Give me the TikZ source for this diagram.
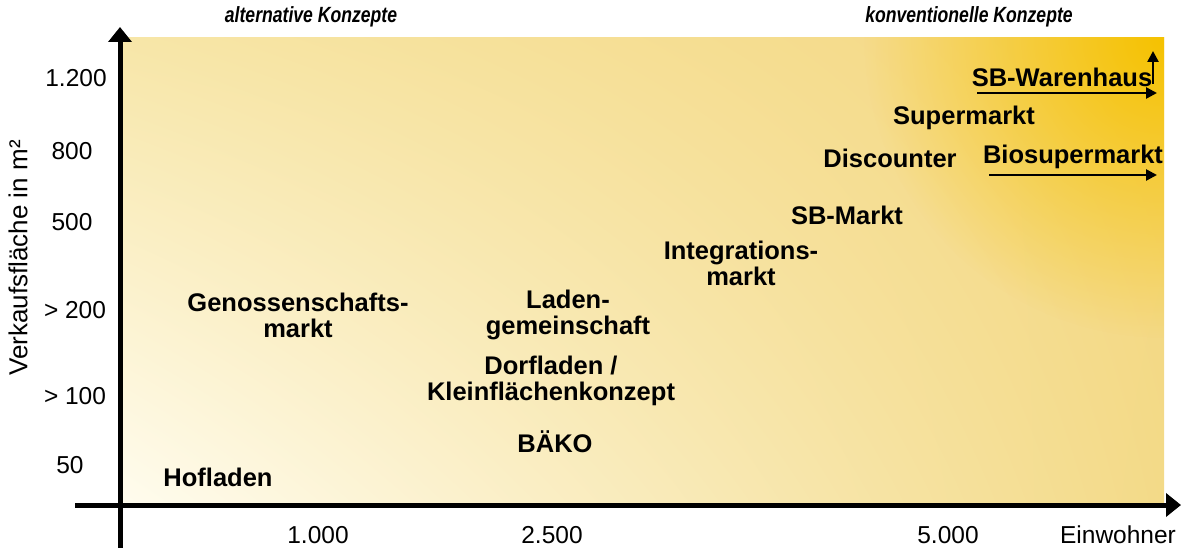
\documentclass[tikz,border=0pt]{standalone}
\usepackage{fontspec}
\setmainfont{Liberation Sans}
\usetikzlibrary{arrows.meta}
\usetikzlibrary{positioning}
\usetikzlibrary{shadings,fadings}

\definecolor{hellgelb}{HTML}{FFFCEE}
\definecolor{blassgelb}{HTML}{F7E6A8}
\definecolor{goldgelb}{HTML}{F6C200}
\definecolor{sandgelb}{HTML}{F3DA88}
\definecolor{eckgelb}{HTML}{F4D780}

\tikzfading[name=goldfade, inner color=transparent!0, outer color=transparent!100]

\tikzset{
  konzept/.style={font=\fontsize{25.5}{26}\selectfont\bfseries,align=center,inner sep=0pt},
  ueber/.style={font=\fontsize{22}{24}\selectfont\bfseries\itshape,inner sep=0pt,xscale=0.8},
  wert/.style={font=\fontsize{24.5}{26}\selectfont,inner sep=0pt},
  achse/.style={line width=5pt,-{Triangle[width=23pt,length=15pt]}},
  pfeil/.style={line width=2.5pt,-{Triangle[width=11pt,length=11pt]}}
}

\begin{document}
\begin{tikzpicture}[x=1pt,y=-1pt]
\useasboundingbox (0,0) rectangle (1190,548);
\shade[upper left=blassgelb,upper right=eckgelb,lower left=hellgelb,lower right=sandgelb] (123,38) rectangle (1164,503);
\begin{scope}
\clip (123,38) rectangle (1164,503);
\fill[goldgelb,path fading=goldfade,fit fading=true] (1164,38) circle (300);
\end{scope}

% Achsen
\coordinate (yunten) at (120,548);
\coordinate (yoben) at (120,27);
\coordinate (xlinks) at (75,505);
\coordinate (xrechts) at (1181,505);
\draw[achse] (yunten) -- (yoben);
\draw[achse] (xlinks) -- (xrechts);
\node[wert,font=\fontsize{26}{28}\selectfont,rotate=90] (ytitel) at (18,258) {Verkaufsfläche in m²};

% Verkaufsflaeche
\node[wert] (y1200) at (76,78) {1.200};
\node[wert] (y800) at (72,151) {800};
\node[wert] (y500) at (72,222) {500};
\node[wert] (y200) at (75,310) {> 200};
\node[wert] (y100) at (75,396) {> 100};
\node[wert] (y50) at (70,465) {50};

% Einwohner
\node[wert] (x1000) at (318,535) {1.000};
\node[wert] (x2500) at (552,535) {2.500};
\node[wert] (x5000) at (948,535) {5.000};
\node[wert] (xtitel) at (1118,535) {Einwohner};

\node[ueber] (alternativ) at (311,17) {alternative Konzepte};
\node[ueber] (konventionell) at (969,17) {konventionelle Konzepte};

% Konzepte
\node[konzept] (warenhaus) at (1062,77) {SB-Warenhaus};
\node[konzept] (supermarkt) at (964,118) {Supermarkt};
\node[konzept] (discounter) at (890,158) {Discounter};
\node[konzept] (biosuper) at (1073,157) {Biosupermarkt};
\node[konzept] (sbmarkt) at (847,215) {SB-Markt};
\node[konzept] (integration) at (741,263) {Integrations-\\markt};
\node[konzept] (genossen) at (298,315) {Genossenschafts-\\markt};
\node[konzept] (laden) at (568,315) {Laden-\\gemeinschaft};
\node[konzept] (dorfladen) at (551,381) {Dorfladen /\\Kleinflächenkonzept};
\node[konzept] (baeko) at (555,442) {BÄKO};
\node[konzept] (hofladen) at (218,477) {Hofladen};

\coordinate (wh0) at (977,93);
\coordinate (wh1) at (1157,93);
\coordinate (wh2) at (1153,84);
\coordinate (wh3) at (1153,51);
\coordinate (bio0) at (989,175);
\coordinate (bio1) at (1157,175);
\draw[pfeil] (wh0) -- (wh1);
\draw[pfeil] (wh2) -- (wh3);
\draw[pfeil] (bio0) -- (bio1);

\end{tikzpicture}
\end{document}
